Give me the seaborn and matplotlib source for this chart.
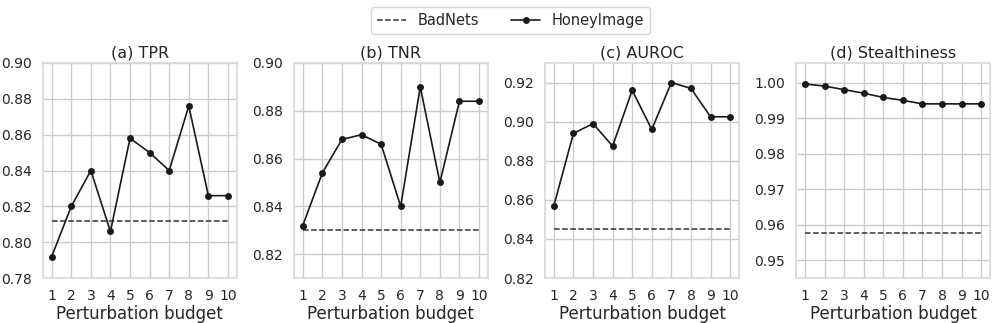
import matplotlib
matplotlib.use("Agg")
import matplotlib.pyplot as plt
import numpy as np
import pandas as pd
import seaborn as sns

budget = [1, 2, 3, 4, 5, 6, 7, 8, 9, 10]
titles = ["(a) TPR", "(b) TNR", "(c) AUROC", "(d) Stealthiness"]
honey_tpr = [0.792, 0.820, 0.840, 0.806, 0.858, 0.850, 0.840, 0.876, 0.826, 0.826]
honey_tnr = [0.832, 0.854, 0.868, 0.870, 0.866, 0.840, 0.890, 0.850, 0.884, 0.884]
honey_auroc = [0.857, 0.894, 0.899, 0.8875, 0.916, 0.896, 0.920, 0.917, 0.9025, 0.9025]
honey_stealth = [0.9996, 0.999, 0.998, 0.997, 0.9958, 0.995, 0.994, 0.994, 0.994, 0.994]
badnets = [0.812, 0.830, 0.845, 0.9578]
ylims = [(0.78, 0.90), (0.81, 0.90), (0.82, 0.93), (0.945, 1.0055)]
yticks = [np.arange(0.78, 0.901, 0.02), np.arange(0.82, 0.901, 0.02),
          np.arange(0.82, 0.921, 0.02), np.arange(0.95, 1.001, 0.01)]

sns.set_theme(style="whitegrid")
plt.rcParams["font.family"] = ["DejaVu Sans"]

fig, axes = plt.subplots(1, 4, figsize=(9.97, 3.23), dpi=100)
fig.subplots_adjust(left=0.043, right=0.993, top=0.805, bottom=0.139, wspace=0.295)

series = [honey_tpr, honey_tnr, honey_auroc, honey_stealth]
for i, ax in enumerate(axes):
    df = pd.DataFrame({"budget": budget, "value": series[i],
                       "base": [badnets[i]] * len(budget)})
    sns.lineplot(data=df, x="budget", y="base", ax=ax, color="#333333",
                 linestyle="--", linewidth=1.1, label="BadNets")
    sns.lineplot(data=df, x="budget", y="value", ax=ax, color="#1a1a1a",
                 marker="o", markersize=5, markeredgewidth=0, linewidth=1.2,
                 label="HoneyImage")
    ax.set_title(titles[i], fontsize=11.5, pad=4)
    ax.set_xlabel("Perturbation budget", fontsize=12, labelpad=1)
    ax.set_ylabel("")
    ax.set_xticks(budget)
    ax.set_yticks(yticks[i])
    ax.set_yticklabels([f"{t:.2f}" for t in yticks[i]])
    ax.set_ylim(*ylims[i])
    ax.tick_params(axis="both", labelsize=10, pad=2)
    for s in ax.spines.values():
        s.set_color("#d9d9d9")
    ax.get_legend().remove()

handles, labels = axes[0].get_legend_handles_labels()
fig.legend(handles, labels, loc="upper center", bbox_to_anchor=(0.512, 1.0),
           ncol=2, fontsize=10.5, frameon=True, handlelength=2.0, columnspacing=2.2)

fig.savefig("out.png", dpi=100)
